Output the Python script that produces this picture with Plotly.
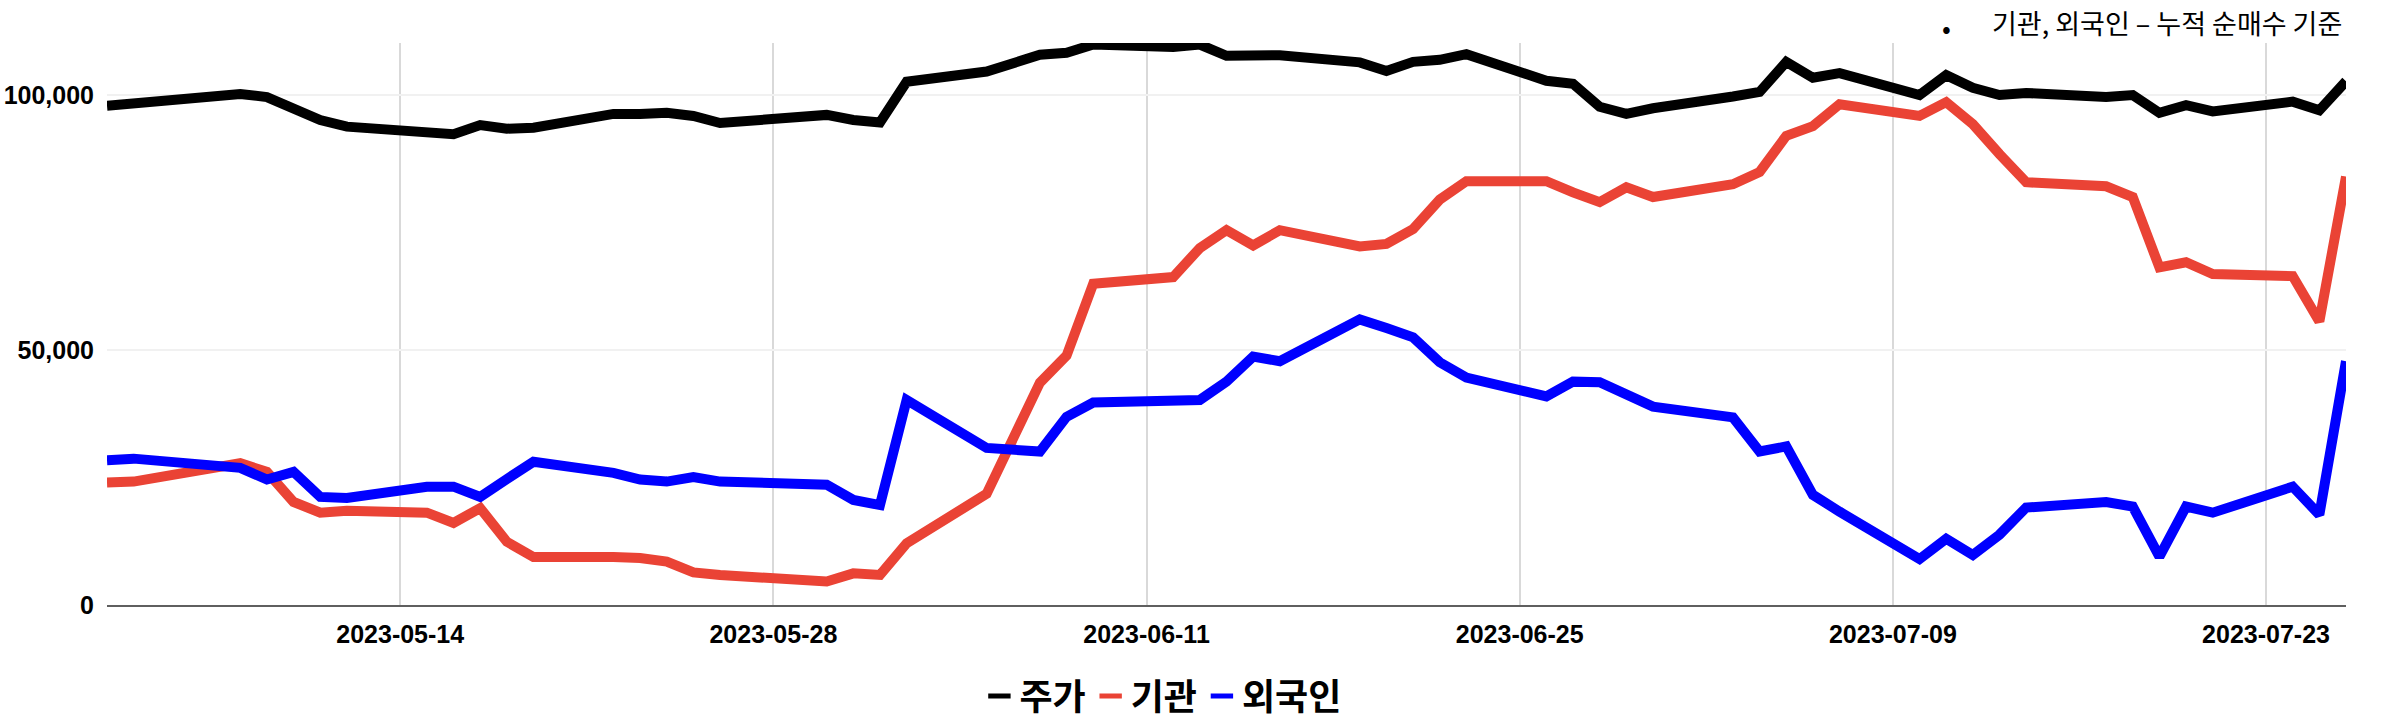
import plotly.graph_objects as go

dates = ["2023-05-03", "2023-05-04", "2023-05-08", "2023-05-09", "2023-05-10", "2023-05-11", "2023-05-12",
         "2023-05-15", "2023-05-16", "2023-05-17", "2023-05-18", "2023-05-19",
         "2023-05-22", "2023-05-23", "2023-05-24", "2023-05-25", "2023-05-26",
         "2023-05-30", "2023-05-31", "2023-06-01", "2023-06-02",
         "2023-06-05", "2023-06-07", "2023-06-08", "2023-06-09",
         "2023-06-12", "2023-06-13", "2023-06-14", "2023-06-15", "2023-06-16",
         "2023-06-19", "2023-06-20", "2023-06-21", "2023-06-22", "2023-06-23",
         "2023-06-26", "2023-06-27", "2023-06-28", "2023-06-29", "2023-06-30",
         "2023-07-03", "2023-07-04", "2023-07-05", "2023-07-06", "2023-07-07",
         "2023-07-10", "2023-07-11", "2023-07-12", "2023-07-13", "2023-07-14",
         "2023-07-17", "2023-07-18", "2023-07-19", "2023-07-20", "2023-07-21",
         "2023-07-24", "2023-07-25", "2023-07-26"]

price = [97900, 98300, 100200, 99600, 97300, 95100, 93800,
         92700, 92300, 94100, 93400, 93600,
         96300, 96300, 96500, 95900, 94500,
         96100, 95100, 94600, 102600,
         104600, 107900, 108300, 109900,
         109400, 109900, 107700, 107700, 107800,
         106400, 104700, 106500, 106900, 108000,
         102800, 102200, 97700, 96300, 97400,
         99700, 100600, 106500, 103400, 104300,
         100000, 103900, 101400, 100000, 100400,
         99600, 100000, 96500, 98000, 96800,
         98700, 97000, 102700]

institution = [24000, 24200, 27800, 26100, 20200, 18100, 18500,
               18100, 16100, 19000, 12400, 9400,
               9400, 9200, 8500, 6400, 5900,
               4600, 6200, 5900, 12100,
               21800, 43600, 48900, 63000,
               64300, 70000, 73500, 70500, 73500,
               70300, 70800, 73700, 79500, 83100,
               83100, 80900, 79000, 81900, 80000,
               82500, 84900, 92000, 93900, 98200,
               95900, 98600, 94300, 88400, 82900,
               82100, 80000, 66200, 67200, 64900,
               64500, 55600, 84000]

foreign = [28400, 28700, 26900, 24600, 26100, 21200, 21000,
           23200, 23200, 21200, 24700, 28100,
           25900, 24600, 24200, 25100, 24200,
           23600, 20600, 19600, 40200,
           30800, 30100, 36900, 39700,
           40000, 40200, 43800, 48700, 47800,
           56000, 54300, 52500, 47600, 44600,
           40900, 43800, 43700, 41300, 38900,
           36800, 30100, 31100, 21600, 18300,
           9000, 13000, 9800, 13800, 19100,
           20200, 19300, 9500, 19300, 18100,
           23200, 17700, 47800]

series_names = ["주가", "기관", "외국인"]
series_values = [price, institution, foreign]
series_colors = ["#000000", "#ea4335", "#0000ff"]

tick_dates = ["2023-05-14", "2023-05-28", "2023-06-11", "2023-06-25", "2023-07-09", "2023-07-23"]
y_ticks = [0, 50000, 100000]
y_tick_labels = ["0", "50,000", "100,000"]

fig = go.Figure()
for name, vals, col in zip(series_names, series_values, series_colors):
    fig.add_trace(go.Scatter(x=dates, y=vals, mode="lines", name=name,
                             line=dict(color=col, width=10), showlegend=False,
                             hoverinfo="x+y+name"))
# legend entries (short dash symbols)
for name, col in zip(series_names, series_colors):
    fig.add_trace(go.Scatter(x=[None], y=[None], mode="markers", name=name,
                             marker=dict(symbol="line-ew", size=16,
                                         line=dict(color=col, width=7)),
                             showlegend=True))

fig.update_layout(
    width=2382, height=723,
    margin=dict(l=107, r=36, t=43, b=118, autoexpand=False),
    paper_bgcolor="white", plot_bgcolor="white",
    font=dict(family="Liberation Sans, Arial, sans-serif", color="#000000"),
    xaxis=dict(
        type="date", range=["2023-05-03", "2023-07-26"],
        tickvals=tick_dates, tickformat="%Y-%m-%d",
        tickfont=dict(size=25, weight="bold", family="Liberation Sans, Arial"),
        showgrid=True, gridcolor="#d9d9d9", gridwidth=1.5,
        showline=True, linecolor="#5f5f5f", linewidth=2,
        ticks="", ticklabelstandoff=6, zeroline=False, automargin=False,
    ),
    yaxis=dict(
        range=[0, 110200], tickvals=y_ticks, ticktext=y_tick_labels,
        tickfont=dict(size=25, weight="bold", family="Liberation Sans, Arial"),
        showgrid=True, gridcolor="#f1f1f1", gridwidth=2,
        zeroline=False, ticks="", ticklabelstandoff=12, showline=False,
        automargin=False,
    ),
    legend=dict(
        orientation="h", x=0.4716, xanchor="center", y=-0.162, yanchor="middle",
        font=dict(size=36, weight="bold", family="Noto Sans CJK KR"),
        itemwidth=30, bgcolor="rgba(0,0,0,0)", traceorder="normal",
    ),
    annotations=[
        dict(text="•", xref="paper", yref="paper", x=(1946 - 107) / 2239, y=1 + (43 - 26) / 562,
             xanchor="center", yanchor="middle", showarrow=False,
             font=dict(size=26, family="Noto Sans CJK KR", color="#000000")),
        dict(text="기관, 외국인 – 누적 순매수 기준", xref="paper", yref="paper",
             x=(2344 - 107) / 2239, y=1 + (43 - 23) / 562,
             xanchor="right", yanchor="middle", showarrow=False,
             font=dict(size=27, family="Noto Sans CJK KR", color="#000000")),
    ],
)

fig.write_html("out.html", config={"displayModeBar": False},
               post_script="document.body.style.margin='0px';document.body.style.overflow='hidden';")
